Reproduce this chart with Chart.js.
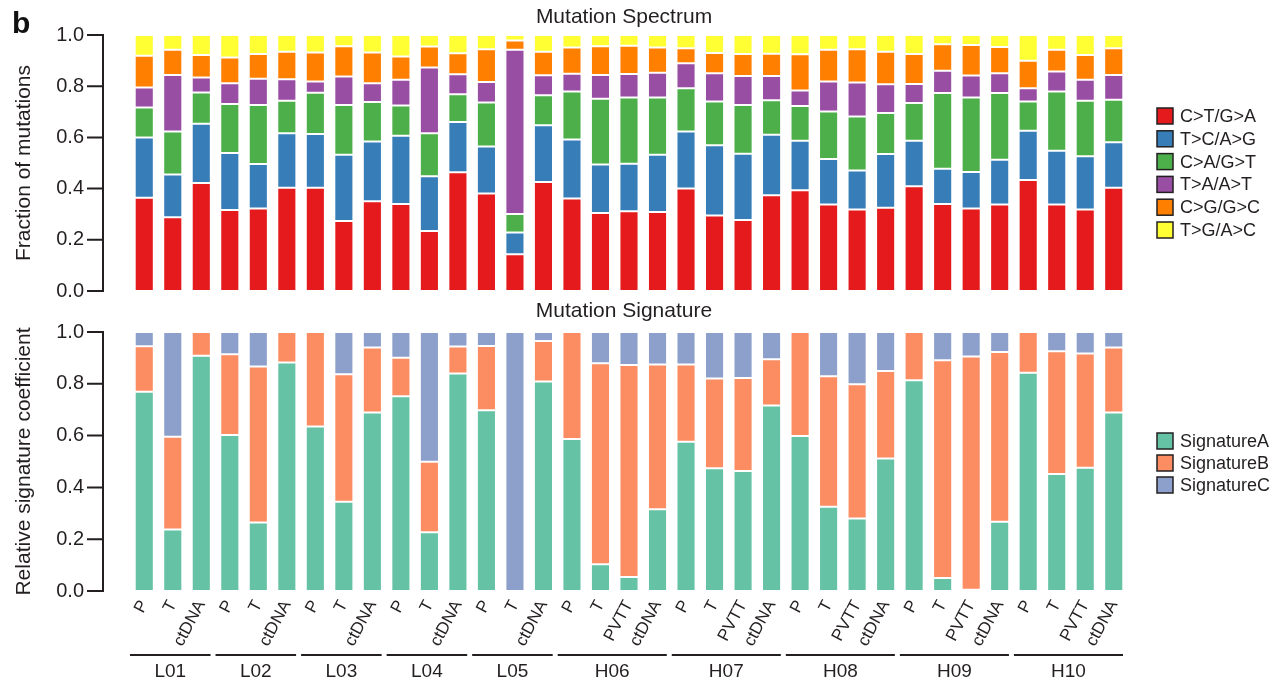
<!DOCTYPE html>
<html>
<head>
<meta charset="utf-8">
<title>Mutation Spectrum / Signature</title>
<script src="https://cdn.jsdelivr.net/npm/chart.js@4.4.0/dist/chart.umd.min.js"></script>
<style>
    body { margin: 0; background: #fff; }
    #wrap { position: relative; width: 1285px; height: 684px; overflow: hidden; }
    #topBox { position: absolute; left: 0; top: 0; width: 1285px; height: 310px; }
    #bottomBox { position: absolute; left: 0; top: 290px; width: 1285px; height: 394px; }
    #panelLabel {
        position: absolute; left: 12px; top: 6px;
        font: bold 30px 'Liberation Sans', Arial, sans-serif; color: #111;
    }
</style>
</head>
<body>
<div id="wrap">
    <div id="topBox"><canvas id="spectrumChart"></canvas></div>
    <div id="bottomBox"><canvas id="signatureChart"></canvas></div>
    <div id="panelLabel">b</div>
</div>

<script>
// sample labels (bar order, left to right)
const sampleLabels = [
    'P', 'T', 'ctDNA', 'P', 'T', 'ctDNA', 'P', 'T', 'ctDNA', 'P', 'T', 'ctDNA', 'P', 'T', 'ctDNA',
    'P', 'T', 'PVTT', 'ctDNA', 'P', 'T', 'PVTT', 'ctDNA', 'P', 'T', 'PVTT', 'ctDNA',
    'P', 'T', 'PVTT', 'ctDNA', 'P', 'T', 'PVTT', 'ctDNA',
];
const patientNames = ['L01', 'L02', 'L03', 'L04', 'L05', 'H06', 'H07', 'H08', 'H09', 'H10'];
const patientSizes = [3, 3, 3, 3, 3, 4, 4, 4, 4, 4];
const yTicks = [0, 0.2, 0.4, 0.6, 0.8, 1.0];

// mutation spectrum fractions
const spectrumNames = ['C>T/G>A', 'T>C/A>G', 'C>A/G>T', 'T>A/A>T', 'C>G/G>C', 'T>G/A>C'];
const ctGa = [0.364, 0.288, 0.422, 0.316, 0.322, 0.403, 0.403, 0.273, 0.351, 0.340, 0.234, 0.464, 0.381, 0.144, 0.426,
    0.361, 0.305, 0.312, 0.309, 0.400, 0.295, 0.277, 0.374, 0.394, 0.338, 0.318, 0.325, 0.409, 0.340, 0.322, 0.338,
    0.434, 0.338, 0.318, 0.403];
const tcAg = [0.236, 0.167, 0.231, 0.223, 0.174, 0.213, 0.210, 0.259, 0.233, 0.266, 0.214, 0.196, 0.183, 0.085, 0.221,
    0.231, 0.189, 0.185, 0.223, 0.223, 0.274, 0.259, 0.236, 0.193, 0.178, 0.153, 0.210, 0.178, 0.138, 0.143, 0.175,
    0.192, 0.210, 0.208, 0.178];
const caGt = [0.117, 0.168, 0.122, 0.191, 0.231, 0.127, 0.161, 0.195, 0.154, 0.119, 0.168, 0.109, 0.172, 0.072, 0.118,
    0.187, 0.257, 0.259, 0.224, 0.169, 0.171, 0.191, 0.135, 0.136, 0.185, 0.211, 0.160, 0.147, 0.295, 0.291, 0.260,
    0.114, 0.231, 0.217, 0.166];
const taAt = [0.078, 0.221, 0.059, 0.082, 0.102, 0.084, 0.044, 0.111, 0.074, 0.100, 0.257, 0.078, 0.080, 0.641, 0.078,
    0.070, 0.093, 0.092, 0.097, 0.098, 0.111, 0.113, 0.095, 0.060, 0.117, 0.132, 0.113, 0.075, 0.087, 0.086, 0.078,
    0.052, 0.078, 0.082, 0.097];
const cgGc = [0.124, 0.098, 0.088, 0.100, 0.097, 0.108, 0.114, 0.118, 0.120, 0.091, 0.082, 0.082, 0.128, 0.037, 0.092,
    0.102, 0.112, 0.110, 0.098, 0.058, 0.079, 0.086, 0.087, 0.142, 0.124, 0.130, 0.127, 0.117, 0.104, 0.119, 0.102,
    0.107, 0.085, 0.097, 0.104];
const tgAc = [0.081, 0.058, 0.078, 0.088, 0.074, 0.065, 0.068, 0.044, 0.068, 0.084, 0.045, 0.071, 0.056, 0.021, 0.065,
    0.049, 0.044, 0.042, 0.049, 0.052, 0.070, 0.074, 0.073, 0.075, 0.058, 0.056, 0.065, 0.074, 0.036, 0.039, 0.047,
    0.101, 0.058, 0.078, 0.052];
const spectrumColors = ['#e41a1c', '#377eb8', '#4daf4a', '#984ea3', '#ff7f00', '#ffff33'];

// signature coefficients
const signatureNames = ['SignatureA', 'SignatureB', 'SignatureC'];
const sigA = [0.769, 0.237, 0.908, 0.602, 0.264, 0.882, 0.635, 0.345, 0.689, 0.752, 0.227, 0.840, 0.698, 0.000, 0.809,
    0.587, 0.103, 0.054, 0.316, 0.576, 0.474, 0.463, 0.716, 0.598, 0.325, 0.280, 0.512, 0.814, 0.050, 0.005, 0.267,
    0.843, 0.452, 0.476, 0.689];
const sigB = [0.176, 0.359, 0.092, 0.312, 0.603, 0.118, 0.365, 0.492, 0.251, 0.149, 0.272, 0.104, 0.248, 0.000, 0.156,
    0.413, 0.776, 0.819, 0.559, 0.299, 0.346, 0.359, 0.179, 0.402, 0.504, 0.518, 0.337, 0.186, 0.841, 0.900, 0.656,
    0.157, 0.474, 0.441, 0.251];
const sigC = [0.055, 0.404, 0.000, 0.086, 0.133, 0.000, 0.000, 0.163, 0.060, 0.099, 0.501, 0.056, 0.054, 1.000, 0.035,
    0.000, 0.121, 0.127, 0.125, 0.125, 0.180, 0.178, 0.105, 0.000, 0.171, 0.202, 0.151, 0.000, 0.109, 0.095, 0.077,
    0.000, 0.074, 0.083, 0.060];
const signatureColors = ['#66c2a5', '#fc8d62', '#8da0cb'];

const FONT = "'Liberation Sans', Arial, Helvetica, sans-serif";
const INK = '#231f20';

// centred title above the plot area
const plotTitlePlugin = {
    id: 'plotTitle',
    afterDraw(chart, args, opts) {
        const ctx = chart.ctx;
        const area = chart.chartArea;
        ctx.save();
        ctx.font = `21px ${FONT}`;
        ctx.fillStyle = INK;
        ctx.textAlign = 'center';
        ctx.textBaseline = 'middle';
        ctx.fillText(opts.text, (area.left + area.right) / 2 - 5, opts.y);
        ctx.restore();
    },
};

// y axis line with outward ticks, set off to the left of the bars
const axisLinePlugin = {
    id: 'axisLine',
    afterDraw(chart) {
        const y = chart.scales.y;
        const ctx = chart.ctx;
        const x0 = chart.chartArea.left - 27;
        ctx.save();
        ctx.strokeStyle = INK;
        ctx.lineWidth = 2;
        ctx.beginPath();
        ctx.moveTo(x0, y.getPixelForValue(0) + 1);
        ctx.lineTo(x0, y.getPixelForValue(1) - 1);
        y.ticks.forEach((t) => {
            const py = y.getPixelForValue(t.value);
            ctx.moveTo(x0 - 16, py);
            ctx.lineTo(x0 + 1, py);
        });
        ctx.stroke();
        ctx.restore();
    },
};

// legend on the right with black-edged boxes
const sideLegendPlugin = {
    id: 'sideLegend',
    afterDraw(chart, args, opts) {
        const ctx = chart.ctx;
        ctx.save();
        ctx.font = `18px ${FONT}`;
        ctx.textBaseline = 'middle';
        chart.data.datasets.forEach((ds, i) => {
            const cy = opts.top + i * opts.step;
            ctx.fillStyle = ds.backgroundColor;
            ctx.fillRect(opts.x, cy - 8, 16, 16);
            ctx.strokeStyle = INK;
            ctx.lineWidth = 1.5;
            ctx.strokeRect(opts.x, cy - 8, 16, 16);
            ctx.fillStyle = INK;
            ctx.fillText(ds.label, opts.x + 23, cy + 1);
        });
        ctx.restore();
    },
};

// patient brackets under the sample labels
const patientGroupPlugin = {
    id: 'patientGroups',
    afterDraw(chart) {
        const x = chart.scales.x;
        const ctx = chart.ctx;
        const slot = x.getPixelForTick(1) - x.getPixelForTick(0);
        const lineY = chart.chartArea.bottom + 64;
        let start = 0;
        ctx.save();
        ctx.strokeStyle = INK;
        ctx.lineWidth = 2;
        ctx.fillStyle = INK;
        ctx.font = `19px ${FONT}`;
        ctx.textAlign = 'center';
        ctx.textBaseline = 'middle';
        patientNames.forEach((name, i) => {
            const end = start + patientSizes[i] - 1;
            const left = x.getPixelForTick(start) - slot / 2;
            const right = x.getPixelForTick(end) + slot / 2 - 5;
            ctx.beginPath();
            ctx.moveTo(left, lineY);
            ctx.lineTo(right, lineY);
            ctx.stroke();
            ctx.fillText(name, (left + right) / 2, lineY + 17);
            start = end + 1;
        });
        ctx.restore();
    },
};

function makeDatasets(names, series, colors) {
    return names.map((name, i) => ({
        label: name,
        data: series[i],
        backgroundColor: colors[i],
        borderColor: 'rgba(255, 255, 255, 0.75)',
        borderWidth: 1,
        borderSkipped: false,
        barPercentage: 0.67,
        categoryPercentage: 1.0,
    }));
}

function yScale(titleText) {
    return {
        stacked: true,
        min: 0,
        max: 1,
        afterFit: (scale) => {
            // fixed axis width; drop the label overhang padding so the plot keeps its full height
            scale.width = 122;
            scale.paddingTop = 0;
            scale.paddingBottom = 0;
        },
        afterBuildTicks: (scale) => {
            scale.ticks = yTicks.map((v) => ({ value: v }));
        },
        border: { display: false },
        grid: { display: false, drawTicks: false },
        ticks: {
            padding: 46,
            color: INK,
            font: { family: FONT, size: 20 },
            callback: (value) => Number(value).toFixed(1),
        },
        title: {
            display: true,
            text: titleText,
            color: INK,
            font: { family: FONT, size: 21 },
            padding: { top: 4, bottom: 0 },
        },
    };
}

// Top panel: mutation spectrum
const spectrumChart = new Chart(document.getElementById('spectrumChart'), {
    type: 'bar',
    data: {
        labels: sampleLabels,
        datasets: makeDatasets(spectrumNames, [ctGa, tcAg, caGt, taAt, cgGc, tgAc], spectrumColors),
    },
    options: {
        responsive: true,
        maintainAspectRatio: false,
        animation: false,
        layout: { autoPadding: false, padding: { left: 8, right: 157, top: 35, bottom: 19 } },
        plugins: {
            legend: { display: false },
            tooltip: { enabled: false },
            plotTitle: { text: 'Mutation Spectrum', y: 17 },
            sideLegend: { x: 1157, top: 116, step: 22.8 },
        },
        scales: {
            x: { stacked: true, display: false },
            y: yScale('Fraction of mutations'),
        },
    },
    plugins: [plotTitlePlugin, axisLinePlugin, sideLegendPlugin],
});

// Bottom panel: mutation signature
const signatureChart = new Chart(document.getElementById('signatureChart'), {
    type: 'bar',
    data: {
        labels: sampleLabels,
        datasets: makeDatasets(signatureNames, [sigA, sigB, sigC], signatureColors),
    },
    options: {
        responsive: true,
        maintainAspectRatio: false,
        animation: false,
        layout: { autoPadding: false, padding: { left: 8, right: 157, top: 42, bottom: 23 } },
        plugins: {
            legend: { display: false },
            tooltip: { enabled: false },
            plotTitle: { text: 'Mutation Signature', y: 21 },
            sideLegend: { x: 1157, top: 151, step: 22 },
        },
        scales: {
            x: {
                stacked: true,
                afterFit: (scale) => {
                    scale.height = 70;
                    scale.paddingLeft = 0;
                    scale.paddingRight = 0;
                },
                border: { display: false },
                grid: { display: false, drawTicks: false },
                ticks: {
                    autoSkip: false,
                    minRotation: 62,
                    maxRotation: 62,
                    padding: 6,
                    color: INK,
                    font: { family: FONT, size: 17 },
                },
            },
            y: yScale('Relative signature coefficient'),
        },
    },
    plugins: [plotTitlePlugin, axisLinePlugin, sideLegendPlugin, patientGroupPlugin],
});
</script>
</body>
</html>
